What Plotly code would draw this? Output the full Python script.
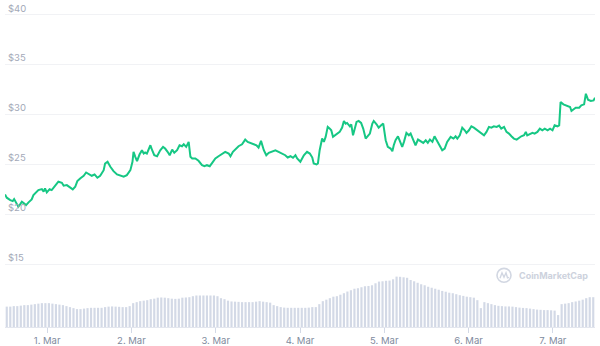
import pandas as pd
import plotly.graph_objects as go

# ---- data ----
start = pd.Timestamp("2021-02-28 12:00")

# price samples: hours after 28 Feb 12:00, price in USD
hours = [0.0, 0.5, 1.5, 2.2, 2.6, 3.2, 3.8, 4.3, 4.8, 5.4, 6.0, 6.7, 7.6, 8.1, 8.9, 9.5,
         10.5, 11.0, 11.4, 11.9, 12.7, 13.3, 14.3, 15.2, 16.2, 16.7, 17.6, 18.6, 19.3, 20.0,
         20.6, 21.4, 22.4, 23.1, 24.1, 24.7, 25.5, 26.3, 27.1, 28.1, 28.5, 29.2, 30.0, 30.9,
         31.9, 32.8, 33.8, 34.7, 35.7, 36.3, 36.6, 37.1, 37.6, 38.3, 39.0, 39.5, 39.9, 40.4,
         41.4, 41.9, 42.5, 43.3, 44.2, 45.0, 45.6, 46.3, 46.9, 47.6, 48.2, 49.0, 49.7, 50.4,
         50.9, 51.6, 52.3, 52.8, 53.3, 54.2, 55.1, 56.1, 56.8, 57.5, 58.3, 59.0, 59.9, 60.8,
         61.8, 62.7, 63.7, 64.2, 64.9, 65.9, 66.5, 67.5, 68.4, 69.1, 69.9, 70.8, 71.6, 72.2,
         72.9, 73.7, 74.4, 75.1, 76.1, 77.0, 77.9, 78.9, 79.8, 80.5, 81.3, 82.0, 82.7, 83.2,
         84.1, 85.1, 86.0, 86.8, 87.5, 87.9, 88.7, 89.1, 89.6, 90.3, 90.8, 91.3, 91.9, 92.5,
         92.9, 93.4, 94.1, 94.8, 95.3, 96.0, 96.5, 97.0, 97.4, 98.2, 98.6, 99.1, 99.5, 100.1,
         100.7, 101.4, 102.0, 102.7, 103.1, 103.9, 104.6, 105.0, 105.8, 106.4, 107.1, 107.7,
         108.4, 109.0, 109.8, 110.3, 110.7, 111.2, 111.9, 112.4, 113.1, 113.6, 114.3, 115.0,
         115.5, 116.3, 116.9, 117.6, 118.3, 119.1, 119.8, 120.4, 121.0, 121.7, 122.3, 123.1,
         123.8, 124.5, 125.2, 125.9, 126.9, 127.7, 128.3, 128.8, 129.5, 130.2, 130.9, 131.4,
         132.1, 132.8, 133.5, 134.3, 135.0, 135.6, 136.4, 137.1, 137.8, 138.5, 139.2, 140.0,
         140.7, 141.3, 142.1, 142.8, 143.5, 144.2, 144.9, 145.7, 146.4, 147.0, 147.8, 148.3,
         148.7, 149.5, 150.2, 150.8, 151.6, 152.3, 153.0, 153.7, 154.5, 155.2, 155.9, 156.5,
         157.3, 157.8, 158.2, 159.0, 159.7, 160.3, 160.9, 161.3, 161.9, 162.5, 163.5, 164.1,
         164.9, 165.4, 166.0, 166.8, 167.6, 168.0]
price = [22.00, 21.67, 21.43, 21.33, 21.53, 21.10, 20.77, 21.00, 21.27, 21.10, 20.93, 21.20,
         21.50, 21.93, 22.27, 22.43, 22.53, 22.27, 22.60, 22.20, 22.53, 22.43, 22.87, 23.27,
         23.17, 22.87, 22.93, 22.67, 22.50, 22.77, 23.33, 23.60, 23.87, 24.20, 24.00, 23.87,
         24.00, 23.67, 23.87, 24.43, 25.10, 25.27, 24.77, 24.33, 24.00, 23.87, 23.77, 23.93,
         24.43, 25.27, 26.27, 25.77, 25.33, 26.00, 26.43, 26.10, 26.20, 26.10,
         26.93, 26.43, 25.93, 25.83, 26.43, 26.77, 26.60, 26.27, 25.93, 26.50, 26.17, 26.43,
         26.93, 26.83, 27.03, 26.77, 27.27, 25.77, 25.60, 25.60, 25.37, 24.93, 24.83, 24.93,
         24.83, 25.17, 25.60, 25.83, 26.10, 26.27, 26.10, 25.83, 26.27, 26.60, 26.83, 27.03,
         27.50, 27.27, 27.17, 27.03, 26.93, 26.70, 27.37, 26.43, 25.93, 26.17, 26.27, 26.43,
         26.27, 26.10, 25.93, 25.70, 25.83, 25.67, 25.93, 25.60,
         25.27, 25.93, 26.27, 26.10, 25.70, 25.10, 25.00, 25.10, 26.43, 27.60, 27.27, 27.77,
         28.77, 28.60, 28.43, 27.77, 27.93, 28.10, 28.27, 28.70, 29.37, 29.10, 29.17, 28.83,
         29.03, 27.93, 28.60, 29.27, 29.37, 29.17, 28.60, 27.60, 27.77, 28.10, 29.10, 29.37,
         29.03, 28.70, 28.93, 29.10, 27.43, 26.77, 26.60, 26.33, 26.93, 27.43, 27.83, 27.43,
         26.77, 27.27, 28.17, 27.93, 28.10, 27.43, 26.93, 27.50, 27.37, 27.17, 27.43, 27.17,
         27.50, 27.27, 27.83, 27.37, 26.93, 26.43, 26.60, 27.27,
         27.77, 27.60, 27.83, 27.60, 27.93, 28.70, 28.43, 28.17, 28.43, 28.83, 28.70, 28.50,
         28.37, 28.17, 27.93, 28.27, 28.77, 28.70, 28.83, 28.77, 28.90, 28.60, 28.77, 28.27,
         28.10, 27.83, 27.60, 27.50, 27.70, 27.83, 27.93, 28.27, 27.93, 28.03, 28.17, 28.10,
         28.27, 28.60, 28.43, 28.60, 28.43, 28.60, 28.43, 28.93, 28.83, 28.93, 31.27, 31.03,
         30.93, 30.83, 30.77, 30.37, 30.50, 30.70, 30.70, 30.93, 31.03, 32.10, 31.50, 31.37,
         31.43, 31.70]

# hourly volume (relative units)
volume = [20.5, 20.5, 21, 21, 21.5, 22, 22, 22.5, 23, 23.5,
          24, 24, 24, 23.5, 23, 22.5, 22, 21, 20, 19,
          18, 18, 18.5, 19, 19.3, 19.3, 19.3, 19.3, 20, 20.5,
          20.7, 20.5, 20.3, 20, 20, 21, 24, 25, 26, 26.5,
          27, 28, 28.5, 29.5, 29.7, 29.5, 29, 28.5, 28.3, 28.5,
          29.5, 29.7, 30, 31, 31.7, 31.7, 31.7, 31.7, 31.7, 31.7,
          31, 29, 28, 26.5, 25.7, 25.5, 25.3, 25, 25, 25,
          25, 25.5, 26, 25.5, 25, 24.5, 22, 21, 20, 19.5,
          19.3, 19.3, 19.3, 19.3, 19.3, 19.3, 19.5, 20, 20, 23,
          26, 27.5, 29, 30.5, 31, 32.5, 34, 35.7, 37, 38.5,
          39, 40, 41, 41.3, 42, 44, 45.7, 46, 46.5, 46.7,
          48, 50.7, 50.5, 50, 49.5, 47.3, 46, 44.5, 43, 42,
          40.5, 39.5, 38.5, 37.5, 36.3, 35.5, 34.5, 34, 33, 32,
          31.3, 30.5, 30, 29.5, 27, 19, 25, 24, 23, 22,
          21.3, 21, 20.7, 20.7, 20.5, 20, 19.5, 19.2, 19, 18.5,
          18, 17.5, 17.3, 17, 17, 16.8, 16.5, 12, 23, 23.5,
          24, 25, 25.7, 26.5, 27.5, 29, 30, 30]

price_ticks = [15, 20, 25, 30, 35, 40]
price_tick_text = ["$15", "$20", "$25", "$30", "$35", "$40"]
day_ticks = ["2021-03-01", "2021-03-02", "2021-03-03", "2021-03-04",
             "2021-03-05", "2021-03-06", "2021-03-07"]
day_tick_text = ["1. Mar", "2. Mar", "3. Mar", "4. Mar", "5. Mar", "6. Mar", "7. Mar"]

# ---- build figure ----
price_times = [start + pd.Timedelta(hours=h) for h in hours]
vol_times = [start + pd.Timedelta(minutes=30 + 60 * i) for i in range(len(volume))]

fig = go.Figure()
fig.add_trace(go.Bar(
    x=vol_times, y=volume, yaxis="y2",
    marker=dict(color="#d3d9e6", line=dict(width=0)),
    width=0.62 * 3600 * 1000, hoverinfo="skip", showlegend=False,
))
fig.add_trace(go.Scatter(
    x=price_times, y=price, mode="lines",
    line=dict(color="#16c784", width=2), showlegend=False,
))

fig.update_layout(
    width=600, height=346,
    margin=dict(l=5, r=5, t=0, b=17),
    paper_bgcolor="white", plot_bgcolor="white",
    font=dict(family="Inter, Noto Sans, sans-serif"),
    xaxis=dict(
        range=[start, start + pd.Timedelta(hours=168)],
        tickvals=day_ticks, ticktext=day_tick_text,
        ticks="outside", ticklen=5, tickcolor="#d3d9e6", tickwidth=1,
        showgrid=False, zeroline=False,
        showline=True, linecolor="#e3e6ee", linewidth=1,
        tickfont=dict(size=9.5, color="#808a9d"),
    ),
    yaxis=dict(
        range=[8.7, 41.5],
        tickvals=price_ticks, ticktext=price_tick_text,
        ticklabelposition="inside top",
        showgrid=True, gridcolor="#f1f2f5", gridwidth=1,
        zeroline=False, showline=False, ticks="",
        tickfont=dict(size=9.5, color="#a3a9b8"),
    ),
    yaxis2=dict(
        range=[0, 329], overlaying="y", visible=False, fixedrange=True,
    ),
    bargap=0.3,
)

# CoinMarketCap watermark
def px_x(p):
    return (p - 5) / 590

def px_y(p):
    return (329 - p) / 329

fig.add_shape(type="circle", xref="paper", yref="paper",
              x0=px_x(497), x1=px_x(511), y0=px_y(284), y1=px_y(270),
              line=dict(color="#d2d7e2", width=1.6))
fig.add_shape(type="path", xref="paper", yref="paper",
              path=("M {} {} L {} {} L {} {} L {} {} L {} {} L {} {}".format(
                  px_x(500), px_y(280), px_x(502), px_y(274.5), px_x(504), px_y(279),
                  px_x(506), px_y(274.5), px_x(507.5), px_y(279.5), px_x(509), px_y(279))),
              line=dict(color="#d2d7e2", width=1.4))
fig.add_annotation(xref="paper", yref="paper", x=px_x(517), y=px_y(277.5),
                   text="<b>CoinMarketCap</b>", showarrow=False,
                   xanchor="left", yanchor="middle",
                   font=dict(size=9, color="#cdd2dd", family="Inter, Noto Sans, sans-serif"))

fig.write_html("out.html", config={"displayModeBar": False})
